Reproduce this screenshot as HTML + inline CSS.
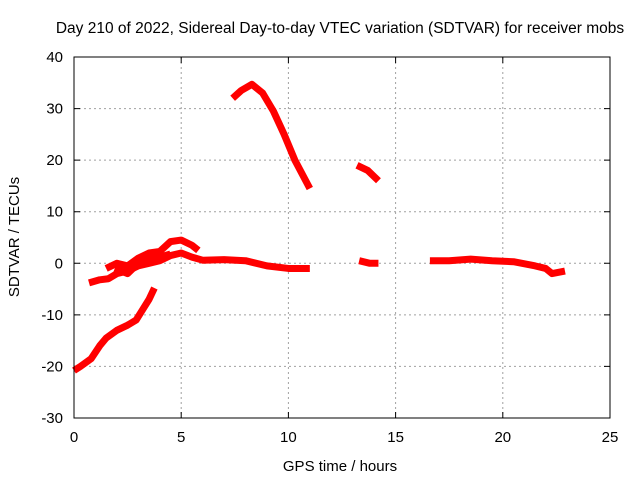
<!DOCTYPE html>
<html><head><meta charset="utf-8"><style>
body{margin:0;background:#fff;}
svg{display:block;font-family:"Liberation Sans",sans-serif;font-size:15px;}
</style></head><body>
<svg id="c" width="640" height="480">
<text x="340" y="33" text-anchor="middle" font-size="15.5">Day 210 of 2022, Sidereal Day-to-day VTEC variation (SDTVAR) for receiver mobs</text>
<text x="340" y="471" text-anchor="middle">GPS time / hours</text>
<text transform="translate(19,237) rotate(-90)" text-anchor="middle">SDTVAR / TECUs</text>
<g id="grid"></g><g id="series"></g>
<rect x="74" y="57" width="536" height="361" fill="none" stroke="#000" stroke-width="1"/>
</svg>
<script>
const xTicks=[0,5,10,15,20,25];
const yTicks=[-30,-20,-10,0,10,20,30,40];
const arcA=[[0,-20.8],[0.3,-20],[0.8,-18.5],[1.2,-16],[1.5,-14.5],[2,-13],[2.5,-12],[2.9,-11],[3.2,-9],[3.5,-7],[3.75,-4.8]];
const arcB=[[0.7,-3.8],[1.2,-3.2],[1.6,-3],[2,-2],[2.5,-1.5],[3,-0.5],[3.5,0],[4,0.5],[4.5,1.5],[5,2],[5.5,1.2],[6,0.6],[7,0.7],[8,0.5],[9,-0.5],[10,-1],[11,-1]];
const arcC=[[1.5,-1],[2,0],[2.5,-0.5],[3,1],[3.5,2],[4,2.3],[4.5,4.2],[5,4.5],[5.5,3.5],[5.8,2.5]];
const arcD=[[1.9,-1],[2.5,-2],[3,0],[3.5,1],[4,1.2],[4.5,1.8]];
const arcE=[[7.4,32],[7.8,33.5],[8.3,34.7],[8.8,33],[9.3,29.5],[9.8,25],[10.3,20],[11,14.5]];
const arcF=[[13.2,19],[13.7,18],[14.2,16]];
const arcG=[[13.3,0.5],[13.8,0],[14.2,0]];
const arcH=[[16.6,0.5],[17.5,0.5],[18.5,0.8],[19.5,0.5],[20.5,0.3],[21.5,-0.5],[22,-1],[22.3,-2],[22.9,-1.5]];
const arcs=[arcA,arcB,arcC,arcD,arcE,arcF,arcG,arcH];
const X=v=>74+v*(536/25), Y=v=>418-(v+30)*(361/70);
const NS="http://www.w3.org/2000/svg";
const g=document.getElementById('grid'), s=document.getElementById('series');
function mk(t,a,p){const e=document.createElementNS(NS,t);for(const k in a)e.setAttribute(k,a[k]);p.appendChild(e);return e;}
xTicks.forEach(v=>{
 if(v>0&&v<25){const l=mk('line',{x1:X(v),x2:X(v),y1:57,y2:418,stroke:'#a0a0a0','stroke-dasharray':'2,3'},g);
 
 
 const tk=mk('path',{d:`M${X(v)},418v-6M${X(v)},57v6`,stroke:'#000'},g);
 
 }
 const t=mk('text',{x:X(v),y:442,'text-anchor':'middle'},g);t.textContent=v;
 
 
});
yTicks.forEach(v=>{
 if(v>-30&&v<40){const l=mk('line',{x1:74,x2:610,y1:Y(v),y2:Y(v),stroke:'#a0a0a0','stroke-dasharray':'2,3'},g);
 
 
 const tk=mk('path',{d:`M74,${Y(v)}h6M610,${Y(v)}h-6`,stroke:'#000'},g);
 
 }
 const t=mk('text',{x:63,y:Y(v)+5,'text-anchor':'end'},g);t.textContent=v;
 
 
});
arcs.forEach(a=>{
 const p=mk('polyline',{points:a.map(d=>X(d[0])+','+Y(d[1])).join(' '),fill:'none',stroke:'#f00','stroke-width':7,'stroke-linejoin':'round','stroke-linecap':'butt'},s);
 
 
});
</script>
</body></html>
